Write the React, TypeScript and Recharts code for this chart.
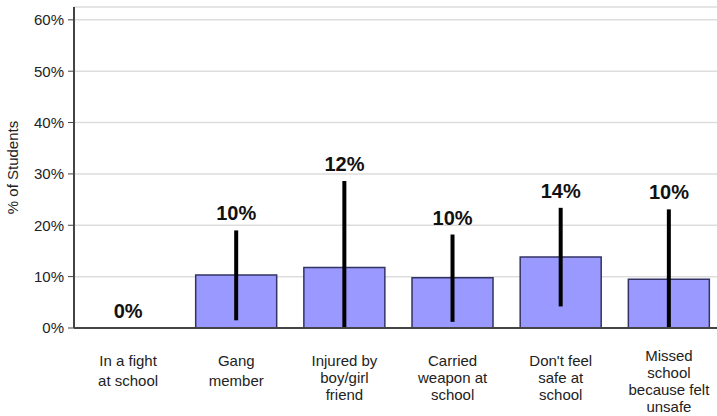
import React from "react"
import {
  ComposedChart,
  Bar,
  Line,
  ErrorBar,
  LabelList,
  XAxis,
  YAxis,
  CartesianGrid
} from "recharts"

const categories = [
  "In a fight\nat school",
  "Gang\nmember",
  "Injured by\nboy/girl\nfriend",
  "Carried\nweapon at\nschool",
  "Don't feel\nsafe at\nschool",
  "Missed\nschool\nbecause felt\nunsafe"
]
const percents = [0, 10.3, 11.8, 9.8, 13.8, 9.5]
const ciLow = [0, 1.5, 0, 1.2, 4.2, 0]
const ciHigh = [0, 19, 28.6, 18.2, 23.4, 23.1]
const valueLabels = ["0%", "10%", "12%", "10%", "14%", "10%"]
const yTicks = [0, 10, 20, 30, 40, 50, 60]

const data = categories.map((category, i) => ({
  category,
  pct: percents[i],
  err: [percents[i] - ciLow[i], ciHigh[i] - percents[i]],
  top: ciHigh[i],
  label: valueLabels[i]
}))

const font = "Arial, 'Liberation Sans', sans-serif"

function CategoryTick(props: any) {
  const { x, y, payload } = props
  const lines = String(payload.value).split("\n")
  // two-line labels sit a bit looser than the longer ones in the original
  const step = lines.length === 2 ? 20 : 17
  const first = lines.length > 3 ? 25 : 30
  return (
    <text x={x} y={y} textAnchor="middle" fontFamily={font} fontSize={15} fill="#222">
      {lines.map((line, i) => (
        <tspan key={i} x={x} dy={i === 0 ? first : step}>
          {line}
        </tspan>
      ))}
    </text>
  )
}

export default function App() {
  return (
    <div style={{ position: "absolute", left: 0, top: 0, width: 717, height: 416, overflow: "hidden", background: "#fff" }}>
      <ComposedChart
        width={723}
        height={416}
        data={data}
        margin={{ top: 7, right: 0, bottom: 0, left: 0 }}
        barCategoryGap="12.5%"
      >
        <CartesianGrid vertical={false} stroke="#dddddd" strokeWidth={1.5} />
        <XAxis
          dataKey="category"
          height={88}
          tickLine={false}
          axisLine={{ stroke: "#444", strokeWidth: 2 }}
          tick={<CategoryTick />}
          interval={0}
        />
        <YAxis
          width={74}
          domain={[0, 62.5]}
          ticks={yTicks}
          tickFormatter={(v: number) => `${v}%`}
          tick={{ fontSize: 15, fill: "#222", fontFamily: font }}
          tickLine={{ stroke: "#444" }}
          tickSize={6}
          tickMargin={4}
          axisLine={{ stroke: "#444", strokeWidth: 2 }}
          label={{
            value: "% of Students",
            angle: -90,
            position: "insideLeft",
            dx: 8,
            style: { fontSize: 15, fill: "#222", fontFamily: font, textAnchor: "middle" }
          }}
        />
        <Bar dataKey="pct" fill="#9999ff" stroke="#333366" strokeWidth={1.5} isAnimationActive={false}>
          <ErrorBar dataKey="err" width={0} stroke="#000" strokeWidth={4} direction="y" />
        </Bar>
        <Line
          dataKey="top"
          stroke="none"
          dot={false}
          activeDot={false}
          isAnimationActive={false}
        >
          <LabelList
            dataKey="label"
            position="top"
            offset={10}
            style={{ fontSize: 20, fontWeight: "bold", fill: "#111", fontFamily: font }}
          />
        </Line>
      </ComposedChart>
    </div>
  )
}
